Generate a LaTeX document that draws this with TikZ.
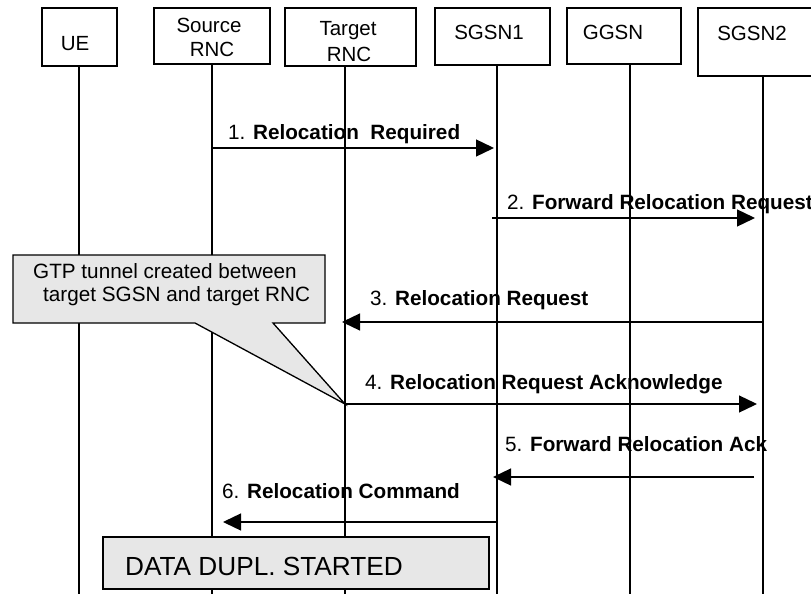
\documentclass[tikz,border=0pt]{standalone}
\usepackage{fontspec}
\setmainfont{Liberation Sans}
\usetikzlibrary{arrows.meta}
\definecolor{boxgray}{RGB}{231,231,231}
\begin{document}
\begin{tikzpicture}[x=1pt,y=-1pt,
  entity/.style={draw,line width=1.3pt,fill=white,inner sep=0pt},
  etext/.style={inner sep=0pt,anchor=base,font=\fontsize{20.5}{24}\selectfont},
  life/.style={line width=1.3pt},
  msg/.style={line width=1.3pt,-{Triangle[length=18pt,width=17pt]}},
  lbl/.style={anchor=base west,inner sep=0pt,font=\fontsize{20.7}{24}\selectfont},
  note/.style={draw,line width=1.3pt,fill=boxgray,line join=miter},
]
\useasboundingbox (0,0) rectangle (811,594);
\fill[white] (0,0) rectangle (811,594);

% header boxes
\node[entity,minimum width=75pt,minimum height=58pt] (ue) at (79.5,37) {};
\node[entity,minimum width=116pt,minimum height=56pt] (src) at (212,36) {};
\node[entity,minimum width=131pt,minimum height=58pt] (tgt) at (350.5,37) {};
\node[entity,minimum width=115pt,minimum height=57pt] (sg1) at (492.5,36.5) {};
\node[entity,minimum width=114pt,minimum height=56pt] (gg) at (624,36) {};
\node[entity,minimum width=132pt,minimum height=68pt] (sg2) at (764,42) {};

\node[etext] (tue) at (75,51) {UE};
\node[etext] (tsrc1) at (209,33) {Source};
\node[etext] (tsrc2) at (212,57) {RNC};
\node[etext] (ttgt1) at (348,36) {Target};
\node[etext] (ttgt2) at (349,62) {RNC};
\node[etext] (tsg1) at (489,40) {SGSN1};
\node[etext] (tgg) at (613,40) {GGSN};
\node[etext] (tsg2) at (752,41) {SGSN2};

% lifelines
\coordinate (ueT) at (79,66);  \coordinate (ueB) at (79,594);
\coordinate (srcT) at (212,64); \coordinate (srcB) at (212,594);
\coordinate (tgtT) at (345,66); \coordinate (tgtB) at (345,594);
\coordinate (sg1T) at (497,65); \coordinate (sg1B) at (497,594);
\coordinate (ggT) at (630,64); \coordinate (ggB) at (630,594);
\coordinate (sg2T) at (763,76); \coordinate (sg2B) at (763,594);
\draw[life] (ueT) -- (ueB);
\draw[life] (srcT) -- (srcB);
\draw[life] (tgtT) -- (tgtB);
\draw[life] (sg1T) -- (sg1B);
\draw[life] (ggT) -- (ggB);
\draw[life] (sg2T) -- (sg2B);

% message end points
\coordinate (m1s) at (212,148); \coordinate (m1e) at (494,148);
\coordinate (m2s) at (492,218); \coordinate (m2e) at (755,218);
\coordinate (m3s) at (763,322); \coordinate (m3e) at (342,322);
\coordinate (m4s) at (345,404); \coordinate (m4e) at (757,404);
\coordinate (m5s) at (754,477); \coordinate (m5e) at (493,477);
\coordinate (m6s) at (497,522); \coordinate (m6e) at (223,522);

% callout
\draw[note] (13,255) -- (325,255) -- (325,323) -- (273,323) -- (m4s) -- (195,323) -- (13,323) -- cycle;
\node[lbl] (c1) at (33,278) {GTP tunnel created between};
\node[lbl] (c2) at (43,301) {target SGSN and target RNC};

% messages
\draw[msg] (m1s) -- (m1e);
\draw[msg] (m2s) -- (m2e);
\draw[msg] (m3s) -- (m3e);
\draw[msg] (m4s) -- (m4e);
\draw[msg] (m5s) -- (m5e);
\draw[msg] (m6s) -- (m6e);

\node[lbl] (l1) at (228,139) {1. \textbf{Relocation\ \ Required}};
\node[lbl] (l2) at (507,209) {2. \textbf{Forward Relocation Request}};
\node[lbl] (l3) at (370,305) {3. \textbf{Relocation Request}};
\node[lbl] (l4) at (365,389) {4. \textbf{Relocation Request Acknowledge}};
\node[lbl] (l5) at (505,451) {5. \textbf{Forward Relocation Ack}};
\node[lbl] (l6) at (222,498) {6. \textbf{Relocation Command}};

% bottom box
\node[draw,line width=1.3pt,fill=boxgray,minimum width=386pt,minimum height=52pt,inner sep=0pt] (dup) at (296,563) {};
\node[anchor=base west,inner sep=0pt,font=\fontsize{26.2}{30}\selectfont] (tdup) at (125,575) {DATA DUPL. STARTED};
\end{tikzpicture}
\end{document}
